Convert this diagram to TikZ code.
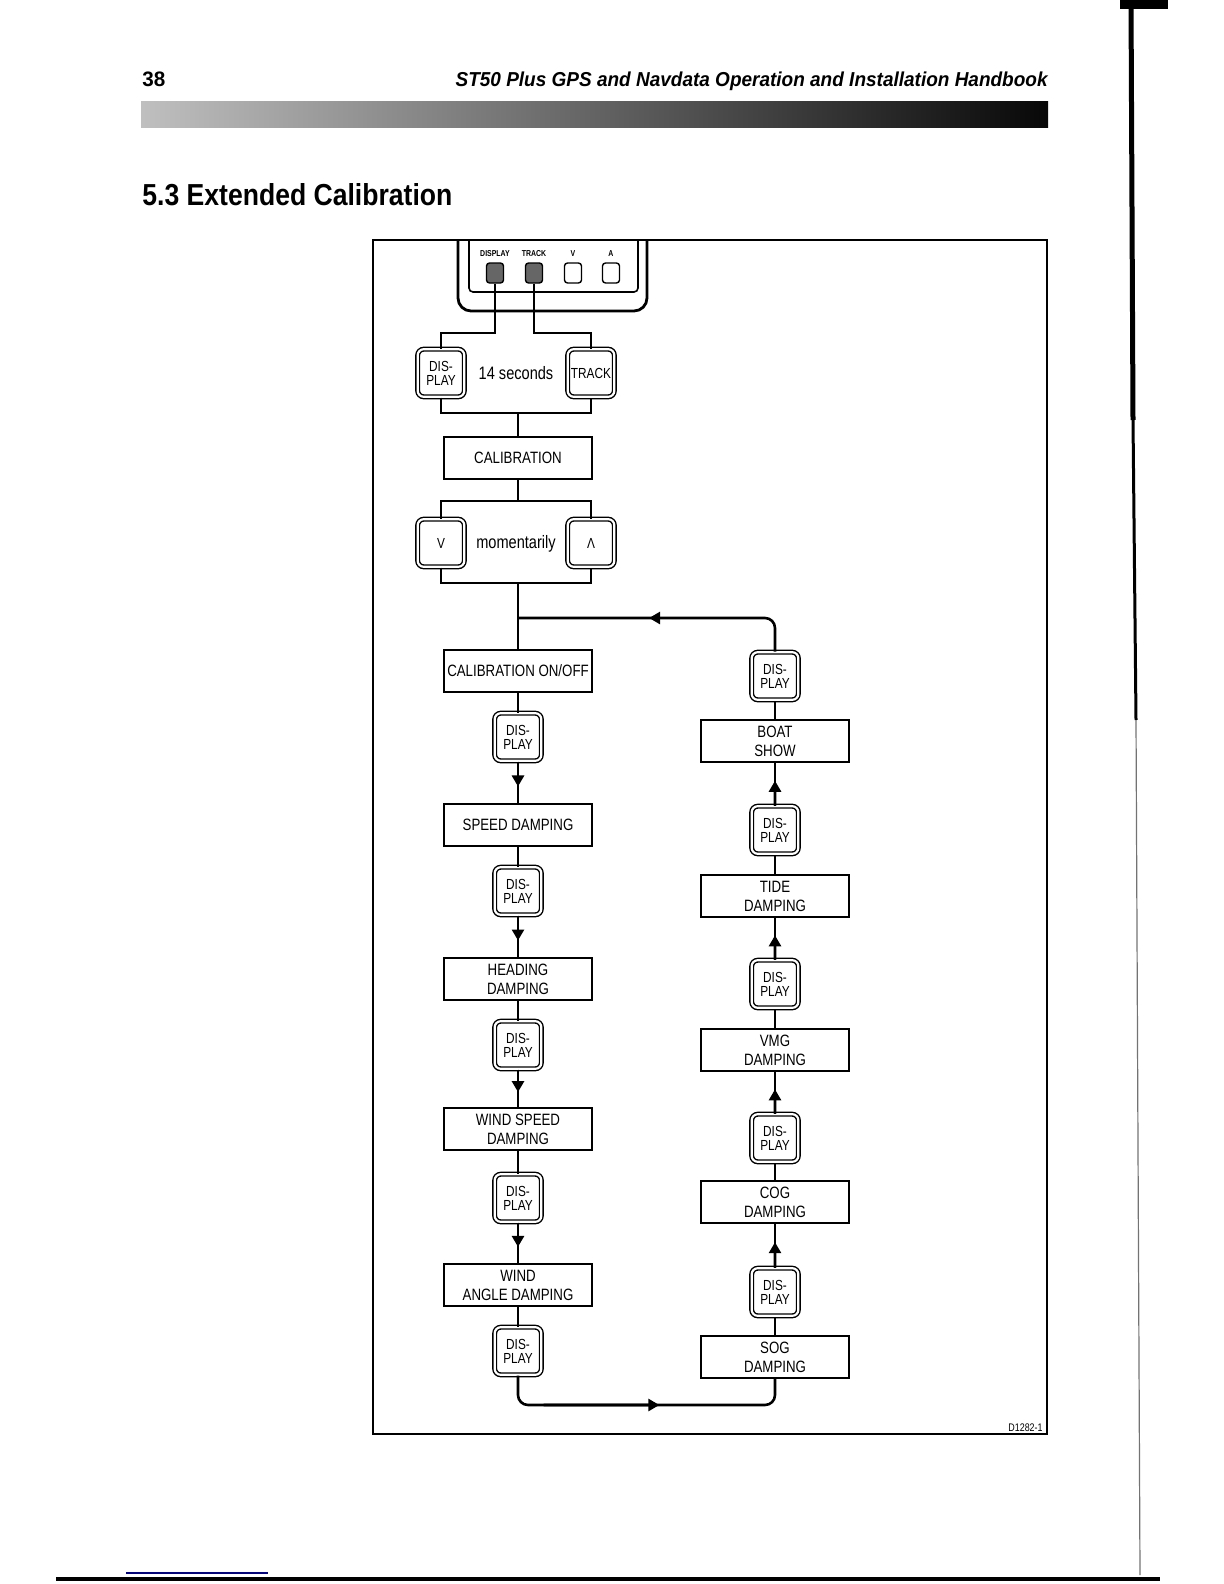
\documentclass[tikz,border=0pt]{standalone}
\usepackage{fontspec}
\usepackage{graphicx}
\setmainfont{Liberation Sans}
\newfontfamily\cond[FakeStretch=0.81]{Liberation Sans}
\usetikzlibrary{arrows.meta,calc}
\tikzset{
  conn/.style={line width=1.3pt},
  tipto/.style={line width=1.3pt,-{Triangle[length=5.5pt,width=6pt]}},
  stepbox/.style={draw, line width=0.85pt, fill=white, minimum width=74pt, minimum height=21pt,
    inner sep=1pt, align=center, font=\cond\fontsize{8.2}{9.5}\selectfont},
  keybox/.style={draw, double, double distance=1.1pt, line width=0.7pt, rounded corners=3pt,
    fill=white, minimum width=23.3pt, minimum height=23.8pt, inner sep=0pt, align=center,
    font=\cond\fontsize{7.3}{6.9}\selectfont},
  devkey/.style={draw, line width=0.7pt, rounded corners=1.5pt, minimum width=8.5pt,
    minimum height=10pt, inner sep=0pt},
  devlbl/.style={inner sep=0pt, font=\cond\bfseries\fontsize{4.3}{5}\selectfont},
  plain/.style={inner sep=0pt, font=\cond\fontsize{9}{10}\selectfont},
}
\begin{document}
\begin{tikzpicture}[x=0.5pt,y=-0.5pt]
\useasboundingbox (0,0) rectangle (1224,1584);

% page header
\node[anchor=base west, inner sep=0pt] (pg) at (142,87) {\resizebox{11.5pt}{7.3pt}{\bfseries 38}};
\node[anchor=base east, inner sep=0pt] (hd) at (1048,87) {\resizebox{296pt}{7.3pt}{\bfseries\itshape ST50 Plus GPS and Navdata Operation and Installation Handbook}};
\shade[left color=black!25, middle color=black!55, right color=black!97] (141,102) rectangle (1048,128);
\node[anchor=base west, inner sep=0pt] (ttl) at (142,205) {\resizebox{155pt}{11pt}{\bfseries 5.3 Extended Calibration}};

% scan edges
\fill (1120,0) rectangle (1168,9);
\draw[line width=2.5pt] (1131,0) -- (1133,420);
\draw[line width=1.5pt] (1133,420) -- (1136,720);
\draw[line width=0.6pt, black!55] (1136,720) -- (1140,1575);
\draw[line width=2pt] (56,1579) -- (1160,1579);
\draw[line width=0.8pt, blue!60!black] (126,1573) -- (268,1573);

% frame
\draw[line width=0.75pt] (373,240) rectangle (1047,1434);
\node[anchor=base east, inner sep=0pt, font=\cond\fontsize{5.5}{6}\selectfont] (ref) at (1043,1431) {D1282-1};

% instrument
\draw[line width=1.4pt, rounded corners=6.5pt] (458,240) -- (458,311) -- (647,311) -- (647,240);
\draw[line width=0.8pt, rounded corners=2pt] (469,240) -- (469,292) -- (638,292) -- (638,240);
\node[devkey, fill=black!60] (dd) at (495,273) {};
\node[devkey, fill=black!60] (dt) at (534,273) {};
\node[devkey, fill=white] (dv) at (573,273) {};
\node[devkey, fill=white] (da) at (611,273) {};
\node[devlbl] (ldd) at (495,254) {DISPLAY};
\node[devlbl] (ldt) at (534,254) {TRACK};
\node[devlbl] (ldv) at (573,254) {V};
\node[devlbl] (lda) at (611,254) {A};

% top keys
\node[keybox] (kd) at (441,373) {DIS-\\PLAY};
\node[keybox] (kt) at (591,373) {TRACK};
\node[plain] (sec) at (516,373) {14 seconds};
\node[stepbox] (cal) at (518,458) {CALIBRATION};
\node[keybox] (kv) at (441,543) {V};
\node[keybox] (ka) at (591,543) {Λ};
\node[plain] (mom) at (516,544) {momentarily};

\coordinate (c1) at (495,333);
\coordinate (c2) at (534,333);
\coordinate (j1) at (518,413);
\coordinate (j2) at (518,501);
\coordinate (j3) at (518,583);
\coordinate (j4) at (518,618);
\coordinate (tr) at (775,618);
\coordinate (bl) at (518,1405);
\coordinate (br) at (775,1405);

% left column
\node[stepbox] (onoff) at (518,671) {CALIBRATION ON/OFF};
\node[keybox] (k1) at (518,737) {DIS-\\PLAY};
\node[stepbox] (speed) at (518,825) {SPEED DAMPING};
\node[keybox] (k2) at (518,891) {DIS-\\PLAY};
\node[stepbox] (heading) at (518,979) {HEADING\\DAMPING};
\node[keybox] (k3) at (518,1045) {DIS-\\PLAY};
\node[stepbox] (windspeed) at (518,1129) {WIND SPEED\\DAMPING};
\node[keybox] (k4) at (518,1198) {DIS-\\PLAY};
\node[stepbox] (windangle) at (518,1285) {WIND\\ANGLE DAMPING};
\node[keybox] (k5) at (518,1351) {DIS-\\PLAY};

% right column
\node[keybox] (r1) at (775,676) {DIS-\\PLAY};
\node[stepbox] (boat) at (775,741) {BOAT\\SHOW};
\node[keybox] (r2) at (775,830) {DIS-\\PLAY};
\node[stepbox] (tide) at (775,896) {TIDE\\DAMPING};
\node[keybox] (r3) at (775,984) {DIS-\\PLAY};
\node[stepbox] (vmg) at (775,1050) {VMG\\DAMPING};
\node[keybox] (r4) at (775,1138) {DIS-\\PLAY};
\node[stepbox] (cog) at (775,1202) {COG\\DAMPING};
\node[keybox] (r5) at (775,1292) {DIS-\\PLAY};
\node[stepbox] (sog) at (775,1357) {SOG\\DAMPING};

% top connectors
\draw[conn] (dd.south) -- (c1) -| (kd.north);
\draw[conn] (dt.south) -- (c2) -| (kt.north);
\draw[conn] (kd.south) |- (j1) -| (kt.south);
\draw[conn] (j1) -- (cal.north);
\draw[conn] (cal.south) -- (j2);
\draw[conn] (kv.north) |- (j2) -| (ka.north);
\draw[conn] (kv.south) |- (j3) -| (ka.south);
\draw[conn] (j3) -- (onoff.north);

% loop back
\draw[conn, rounded corners=5pt] (r1.north) -- (tr) -- (j4);
\draw[tipto] ($(tr)!0.1!(j4)$) -- ($(tr)!0.49!(j4)$);
\draw[conn, rounded corners=5pt] (k5.south) -- (bl) -- (br) -- (sog.south);
\draw[tipto] ($(bl)!0.1!(br)$) -- ($(bl)!0.55!(br)$);

% left chain
\draw[conn] (onoff) -- (k1);
\draw[conn] (k1) -- (speed);
\draw[tipto] (k1.south) -- ($(k1.south)!0.6!(speed.north)$);
\draw[conn] (speed) -- (k2);
\draw[conn] (k2) -- (heading);
\draw[tipto] (k2.south) -- ($(k2.south)!0.6!(heading.north)$);
\draw[conn] (heading) -- (k3);
\draw[conn] (k3) -- (windspeed);
\draw[tipto] (k3.south) -- ($(k3.south)!0.6!(windspeed.north)$);
\draw[conn] (windspeed) -- (k4);
\draw[conn] (k4) -- (windangle);
\draw[tipto] (k4.south) -- ($(k4.south)!0.6!(windangle.north)$);
\draw[conn] (windangle) -- (k5);

% right chain (upwards)
\draw[conn] (boat) -- (r1);
\draw[conn] (r2) -- (boat);
\draw[tipto] (r2.north) -- ($(r2.north)!0.58!(boat.south)$);
\draw[conn] (tide) -- (r2);
\draw[conn] (r3) -- (tide);
\draw[tipto] (r3.north) -- ($(r3.north)!0.58!(tide.south)$);
\draw[conn] (vmg) -- (r3);
\draw[conn] (r4) -- (vmg);
\draw[tipto] (r4.north) -- ($(r4.north)!0.58!(vmg.south)$);
\draw[conn] (cog) -- (r4);
\draw[conn] (r5) -- (cog);
\draw[tipto] (r5.north) -- ($(r5.north)!0.58!(cog.south)$);
\draw[conn] (sog) -- (r5);
\end{tikzpicture}
\end{document}
